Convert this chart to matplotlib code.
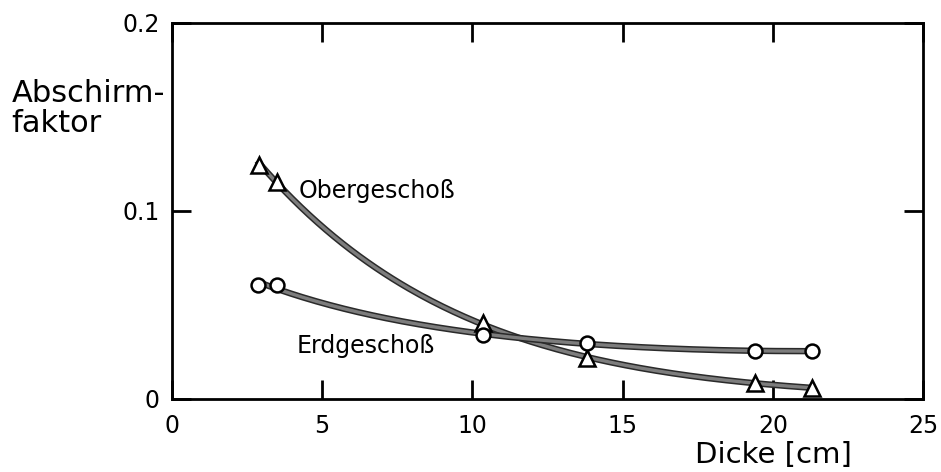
import numpy as np
import matplotlib
matplotlib.use("Agg")
import matplotlib.pyplot as plt
import matplotlib.patheffects as pe

# Measured shielding factors versus wall thickness
dicke_ober = [2.9, 3.5, 10.35, 13.8, 19.4, 21.3]
faktor_ober = [0.1245, 0.1154, 0.0404, 0.0218, 0.0085, 0.0059]
dicke_erd = [2.85, 3.5, 10.35, 13.8, 19.4, 21.3]
faktor_erd = [0.0606, 0.0606, 0.0340, 0.0298, 0.0255, 0.0255]

x_ticks = [0, 5, 10, 15, 20, 25]
x_ticklabels = ["0", "5", "10", "15", "20", "25"]
y_ticks = [0, 0.1, 0.2]
y_ticklabels = ["0", "0.1", "0.2"]

plt.rcParams["font.family"] = "DejaVu Sans"

fig = plt.figure(figsize=(9.41, 4.72), dpi=100)
ax = fig.add_axes([0.1828, 0.1547, 0.7981, 0.7966])
ax.set_xlim(0, 25)
ax.set_ylim(0, 0.2)

line_fx = [pe.Stroke(linewidth=4.6, foreground="#2a2a2a"),
           pe.Stroke(linewidth=2.4, foreground="#7d7d7d")]


def fitted_curve(xs, ys, deg):
    xs = np.asarray(xs)
    coef = np.polyfit(xs, np.log(ys), deg)
    xx = np.linspace(xs.min(), xs.max(), 200)
    return xx, np.exp(np.polyval(coef, xx))


for xs, ys in [(dicke_ober, faktor_ober), (dicke_erd, faktor_erd)]:
    xx, yy = fitted_curve(xs, ys, 2)
    ax.plot(xx, yy, color="#7d7d7d", lw=2.4, zorder=2, path_effects=line_fx)

ax.plot(dicke_ober, faktor_ober, ls="none", marker="^", ms=12, mfc="white",
        mec="black", mew=1.8, zorder=3)
ax.plot(dicke_erd, faktor_erd, ls="none", marker="o", ms=10, mfc="white",
        mec="black", mew=1.8, zorder=3)

ax.text(4.2, 0.107, "Obergeschoß", fontsize=17, va="baseline", ha="left")
ax.text(4.15, 0.0245, "Erdgeschoß", fontsize=17, va="baseline", ha="left")

ax.set_xticks(x_ticks)
ax.set_xticklabels(x_ticklabels)
ax.set_yticks(y_ticks)
ax.set_yticklabels(y_ticklabels)
ax.tick_params(axis="both", direction="in", length=14, width=2, labelsize=17,
               top=True, right=True)
ax.tick_params(axis="x", pad=11)
ax.tick_params(axis="y", pad=9)
for s in ax.spines.values():
    s.set_linewidth(2)

fig.text(0.905, 0.019, "Dicke [cm]", fontsize=21, ha="right", va="baseline")
fig.text(0.012, 0.720, "Abschirm-\nfaktor", fontsize=22, ha="left", va="baseline",
         linespacing=1.05)

fig.savefig("out.png", dpi=100)
